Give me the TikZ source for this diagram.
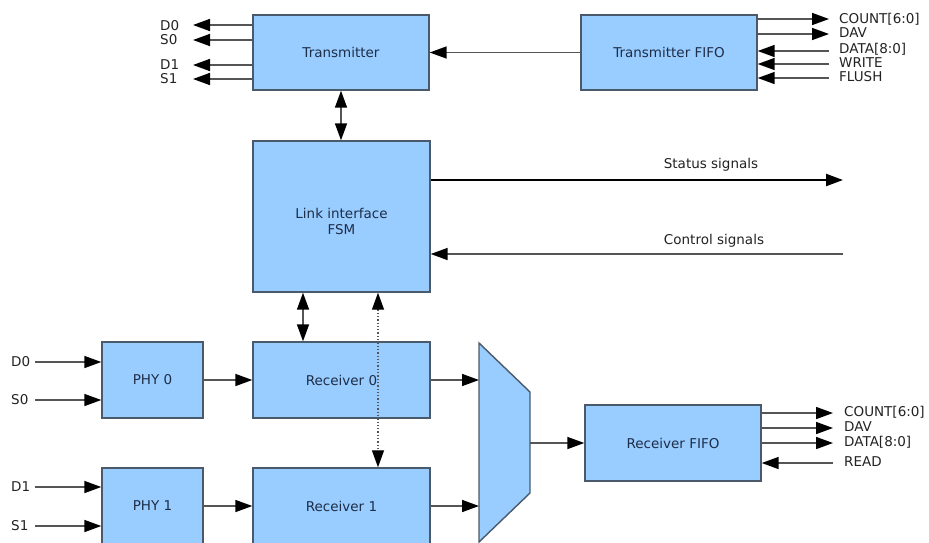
\documentclass[tikz,border=0pt]{standalone}
\usepackage{fontspec}
\setmainfont{DejaVu Sans}
\usetikzlibrary{arrows.meta}
\definecolor{boxfill}{HTML}{99CCFF}
\definecolor{boxline}{HTML}{4A5A6A}
\definecolor{boxtext}{HTML}{1E2E48}
\definecolor{wirec}{HTML}{555555}
\definecolor{lblc}{HTML}{222222}
\begin{document}
\begin{tikzpicture}[x=1pt,y=-1pt,
  blk/.style={draw=boxline, line width=1.4pt, fill=boxfill, inner sep=0pt, text=boxtext,
    font=\fontsize{13.5}{16}\selectfont, align=center},
  tipa/.tip={Triangle[length=17pt,width=12pt,color=black]},
  wire/.style={draw=wirec, line width=1.6pt, -tipa},
  dwire/.style={draw=wirec, line width=1.6pt, tipa-tipa},
  lbl/.style={font=\fontsize{13.5}{15}\selectfont, text=lblc, inner sep=0pt}]
\useasboundingbox (0,0) rectangle (929,542);
\clip (0,0) rectangle (929,542);

% blocks
\node[blk, minimum width=176pt, minimum height=75pt] (tx)  at (341,52.5) {Transmitter};
\node[blk, minimum width=176pt, minimum height=75pt] (txf) at (669,52.5) {Transmitter FIFO};
\node[blk, minimum width=177pt, minimum height=151pt] (fsm) at (341.5,216.5) {};
\node[text=boxtext, font=\fontsize{13.5}{16}\selectfont, align=center, inner sep=0pt]
  (fsmtxt) at ([yshift=-5pt]fsm.center) {Link interface\\FSM};
\node[blk, minimum width=177pt, minimum height=76pt] (rx0) at (341.5,380) {Receiver 0};
\node[blk, minimum width=177pt, minimum height=76pt] (rx1) at (341.5,506) {Receiver 1};
\node[blk, minimum width=101pt, minimum height=76pt] (phy0) at (152.5,380) {PHY 0};
\node[blk, minimum width=101pt, minimum height=76pt] (phy1) at (152.5,506) {PHY 1};
\node[blk, minimum width=176pt, minimum height=76pt] (rxf) at (673,443) {Receiver FIFO};

% multiplexer
\coordinate (mtl) at (479,343);
\coordinate (mtr) at (530,392);
\coordinate (mbr) at (530,493);
\coordinate (mbl) at (479,542);
\coordinate (min0) at (479,380);
\coordinate (min1) at (479,506);
\coordinate (mout) at (530,443);
\draw[draw=boxline, line width=1.4pt, fill=boxfill] (mtl) -- (mtr) -- (mbr) -- (mbl) -- cycle;

% transmitter outputs
\coordinate (td0) at (193,25);
\coordinate (ts0) at (193,40);
\coordinate (td1) at (193,65);
\coordinate (ts1) at (193,79);
\draw[wire] (tx.west |- td0) -- (td0);
\draw[wire] (tx.west |- ts0) -- (ts0);
\draw[wire] (tx.west |- td1) -- (td1);
\draw[wire] (tx.west |- ts1) -- (ts1);
\node[lbl, anchor=west] (ltd0) at (160,26) {D0};
\node[lbl, anchor=west] (lts0) at (160,40) {S0};
\node[lbl, anchor=west] (ltd1) at (160,65) {D1};
\node[lbl, anchor=west] (lts1) at (160,79) {S1};

% transmitter FIFO ports
\coordinate (fcount) at (829,19);
\coordinate (fdav)   at (829,34);
\coordinate (fdata)  at (829,51);
\coordinate (fwrite) at (829,64);
\coordinate (fflush) at (829,78);
\draw[wire] (txf.east |- fcount) -- (fcount);
\draw[wire] (txf.east |- fdav) -- (fdav);
\draw[wire] (fdata) -- (txf.east |- fdata);
\draw[wire] (fwrite) -- (txf.east |- fwrite);
\draw[wire] (fflush) -- (txf.east |- fflush);
\node[lbl, anchor=west] (lfcount) at (839,19) {COUNT[6:0]};
\node[lbl, anchor=west] (lfdav)   at (839,33) {DAV};
\node[lbl, anchor=west] (lfdata)  at (839,49) {DATA[8:0]};
\node[lbl, anchor=west] (lfwrite) at (839,63) {WRITE};
\node[lbl, anchor=west] (lfflush) at (839,77) {FLUSH};

\draw[wire] (txf.west) -- (tx.east);
\draw[dwire] (tx.south) -- (tx.south |- fsm.north);

% status / control
\coordinate (stat) at (843,180);
\coordinate (ctrl) at (843,254);
\draw[draw=black, line width=2.2pt, -tipa] (fsm.east |- stat) -- (stat);
\draw[wire] (ctrl) -- (fsm.east |- ctrl);
\node[lbl] (lstat) at (711,165) {Status signals};
\node[lbl] (lctrl) at (714,241) {Control signals};

% PHY inputs
\coordinate (id0) at (35,362);
\coordinate (is0) at (35,400);
\coordinate (id1) at (35,487);
\coordinate (is1) at (35,526);
\draw[wire] (id0) -- (id0 -| phy0.west);
\draw[wire] (is0) -- (is0 -| phy0.west);
\draw[wire] (id1) -- (id1 -| phy1.west);
\draw[wire] (is1) -- (is1 -| phy1.west);
\node[lbl, anchor=west] (lid0) at (11,362) {D0};
\node[lbl, anchor=west] (lis0) at (11,400) {S0};
\node[lbl, anchor=west] (lid1) at (11,487) {D1};
\node[lbl, anchor=west] (lis1) at (11,526) {S1};

\draw[wire] (phy0.east) -- (rx0.west);
\draw[wire] (phy1.east) -- (rx1.west);
\draw[wire] (rx0.east) -- (min0);
\draw[wire] (rx1.east) -- (min1);
\draw[wire] (mout) -- (rxf.west);

% FSM - receivers
\draw[dwire] ([xshift=-38.5pt]fsm.south) -- ([xshift=-38.5pt]rx0.north);
\draw[draw=wirec, line width=1.3pt, dash pattern=on 1.3pt off 2pt, tipa-tipa]
  ([xshift=36.5pt]fsm.south) -- ([xshift=36.5pt]rx1.north);

% receiver FIFO ports
\coordinate (rcount) at (833,413);
\coordinate (rdav)   at (833,428);
\coordinate (rdata)  at (833,443);
\coordinate (rread)  at (833,463);
\draw[wire] (rxf.east |- rcount) -- (rcount);
\draw[wire] (rxf.east |- rdav) -- (rdav);
\draw[wire] (rxf.east |- rdata) -- (rdata);
\draw[wire] (rread) -- (rxf.east |- rread);
\node[lbl, anchor=west] (lrcount) at (844,412) {COUNT[6:0]};
\node[lbl, anchor=west] (lrdav)   at (844,427) {DAV};
\node[lbl, anchor=west] (lrdata)  at (844,442) {DATA[8:0]};
\node[lbl, anchor=west] (lrread)  at (844,462) {READ};
\end{tikzpicture}
\end{document}
